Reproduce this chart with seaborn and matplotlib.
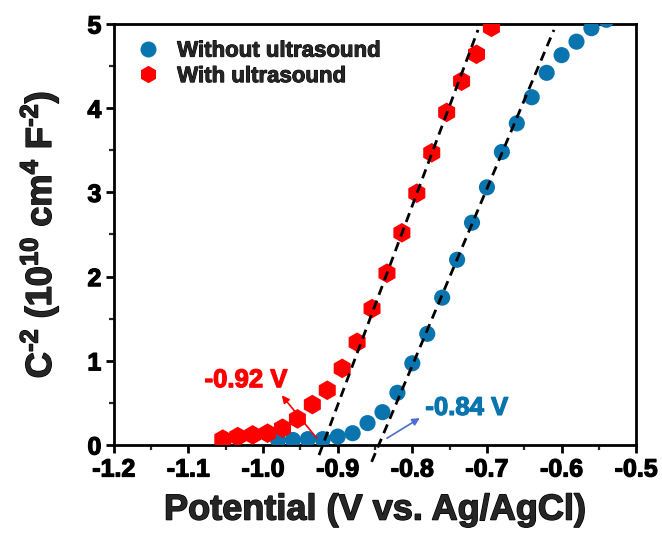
import numpy as np
import pandas as pd
import matplotlib
matplotlib.use("Agg")
import matplotlib.pyplot as plt
import matplotlib.patheffects as pe
import seaborn as sns

# Mott-Schottky data: potential (V vs. Ag/AgCl) and C^-2 (10^10 cm^4 F^-2)
pot_without = [-0.98, -0.96, -0.94, -0.92, -0.90, -0.88, -0.86, -0.84, -0.82, -0.80,
               -0.78, -0.76, -0.74, -0.72, -0.70, -0.68, -0.66, -0.64, -0.62, -0.60,
               -0.58, -0.56, -0.54]
c2_without = [0.06, 0.06, 0.07, 0.07, 0.10, 0.14, 0.26, 0.39, 0.62, 0.97,
              1.32, 1.75, 2.20, 2.64, 3.06, 3.48, 3.82, 4.13, 4.42, 4.63,
              4.79, 4.95, 5.05]

pot_with = [-1.054, -1.034, -1.014, -0.994, -0.974, -0.954, -0.934, -0.914, -0.894, -0.874,
            -0.854, -0.834, -0.814, -0.794, -0.774, -0.754, -0.734, -0.714, -0.694]
c2_with = [0.07, 0.10, 0.12, 0.14, 0.20, 0.31, 0.48, 0.65, 0.91, 1.22,
           1.62, 2.04, 2.52, 2.99, 3.47, 3.95, 4.32, 4.64, 4.96]

series_names = ["Without ultrasound", "With ultrasound"]
series_colors = ["#0a74ae", "#ff0000"]

# Linear fits of the depletion region: flat-band potentials (x-intercepts) and slopes
flatband = [-0.845, -0.92]
flatband_labels = ["-0.84 V", "-0.92 V"]
fit_slopes = [21.0, 23.7]
fit_ymin = [-0.20, -0.12]
fit_ymax = [4.93, 4.93]

x_ticks = [-1.2, -1.1, -1.0, -0.9, -0.8, -0.7, -0.6, -0.5]
y_ticks = [0, 1, 2, 3, 4, 5]

sns.set_theme(style="ticks")
plt.rcParams["font.family"] = ["Liberation Sans", "DejaVu Sans"]
plt.rcParams["font.weight"] = "bold"
plt.rcParams["mathtext.fontset"] = "custom"
plt.rcParams["mathtext.rm"] = "Liberation Sans:bold"
plt.rcParams["mathtext.it"] = "Liberation Sans:bold"
plt.rcParams["mathtext.bf"] = "Liberation Sans:bold"

# slight extra stroke to give the heavy lettering
def heavy(color="black", w=0.9):
    return [pe.withStroke(linewidth=w, foreground=color)]

df = pd.concat([
    pd.DataFrame({"Potential": pot_without, "C2": c2_without, "Sample": series_names[0]}),
    pd.DataFrame({"Potential": pot_with, "C2": c2_with, "Sample": series_names[1]}),
], ignore_index=True)

fig = plt.figure(figsize=(6.62, 5.39), dpi=100)
ax = fig.add_axes([0.172, 0.1744, 0.789, 0.7811])

sns.scatterplot(data=df, x="Potential", y="C2", hue="Sample", style="Sample",
                markers={series_names[0]: "o", series_names[1]: "h"},
                size="Sample", sizes={series_names[0]: 135, series_names[1]: 200},
                palette=dict(zip(series_names, series_colors)),
                linewidth=0, ax=ax, zorder=3, legend=False)

# Dashed fit lines drawn over the markers
for x0, k, y0, y1 in zip(flatband, fit_slopes, fit_ymin, fit_ymax):
    ys = np.array([y0, y1])
    xs = x0 + ys / k
    ax.plot(xs, ys, linestyle=(0, (3.4, 2.2)), color="black", lw=2.0,
            zorder=4, clip_on=False)

# Flat-band potential annotations
ax.annotate("", xy=(-0.975, 0.59), xytext=(-0.928, 0.08),
            arrowprops=dict(arrowstyle="-|>", color="#ff0000", lw=1.2,
                            mutation_scale=11, shrinkA=0, shrinkB=0))
ax.text(-1.023, 0.77, flatband_labels[1], color="#ff0000", fontsize=18.5,
        fontweight="bold", ha="center", va="center", path_effects=heavy("#ff0000"))
ax.annotate("", xy=(-0.790, 0.32), xytext=(-0.834, 0.08),
            arrowprops=dict(arrowstyle="-|>", color="#4a6fd0", lw=1.2,
                            mutation_scale=11, shrinkA=0, shrinkB=0))
ax.text(-0.727, 0.44, flatband_labels[0], color=series_colors[0], fontsize=18.5,
        fontweight="bold", ha="center", va="center", path_effects=heavy(series_colors[0]))

ax.set_xlim(-1.2, -0.5)
ax.set_ylim(0, 5)
ax.set_xticks(x_ticks)
ax.set_xticklabels([f"{v:.1f}" for v in x_ticks])
ax.set_yticks(y_ticks)
ax.set_xticks(np.arange(-1.15, -0.5, 0.1), minor=True)
ax.set_yticks(np.arange(0.5, 5, 1.0), minor=True)

ax.tick_params(axis="both", which="major", direction="out", length=6, width=2,
               labelsize=18, pad=3, colors="black")
ax.tick_params(axis="both", which="minor", direction="out", length=3.5, width=1.6)
for lab in ax.get_xticklabels() + ax.get_yticklabels():
    lab.set_fontweight("bold")
    lab.set_path_effects(heavy())

for sp in ax.spines.values():
    sp.set_linewidth(2)
    sp.set_color("black")
    sp.set_visible(True)

ax.set_xlabel("Potential (V vs. Ag/AgCl)", fontsize=26, fontweight="bold", labelpad=8,
              path_effects=heavy(w=1.0))
ax.set_ylabel(r"C$^{\text{-2}}$ (10$^{\text{10}}$ cm$^{\text{4}}$ F$^{\text{-2}}$)",
              fontsize=26, fontweight="bold", labelpad=19, path_effects=heavy(w=1.0))

# Legend
handles = [plt.Line2D([], [], marker="o", ls="none", color=series_colors[0], markersize=11.5,
                      markeredgewidth=0),
           plt.Line2D([], [], marker="h", ls="none", color=series_colors[1], markersize=12.5,
                      markeredgewidth=0)]
leg = ax.legend(handles, series_names, loc="upper left", frameon=False, fontsize=16,
                handletextpad=0.5, borderaxespad=0.35, labelspacing=0.2,
                handlelength=1.6, bbox_to_anchor=(0.0, 1.0))
for t in leg.get_texts():
    t.set_fontweight("bold")
    t.set_path_effects(heavy(w=0.7))

fig.savefig("out.png", dpi=100)
